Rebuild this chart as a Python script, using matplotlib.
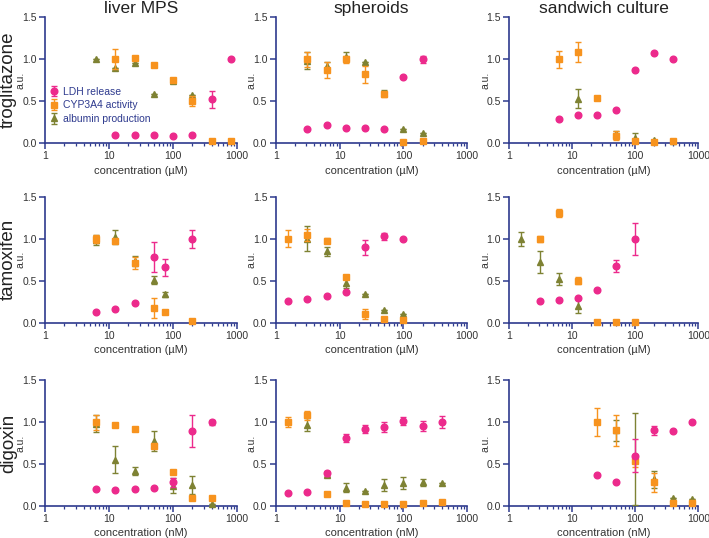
import matplotlib
matplotlib.use('Agg')
import matplotlib.pyplot as plt
import numpy as np
from matplotlib.ticker import LogLocator, NullFormatter, FixedLocator

nan = np.nan

# column / row names
cultures = ['liver MPS', 'spheroids', 'sandwich culture']
drugs = ['troglitazone', 'tamoxifen', 'digoxin']
units = ['µM', 'µM', 'nM']
series_names = ['LDH release', 'CYP3A4 activity', 'albumin production']

# troglitazone - liver MPS
trog_mps_conc = [6.25, 12.5, 25, 50, 100, 200, 400, 800]
trog_mps_ldh = [nan, 0.10, 0.095, 0.095, 0.085, 0.095, 0.52, 1.0]
trog_mps_ldh_err = [0, 0, 0, 0, 0, 0, 0.10, 0]
trog_mps_cyp = [nan, 1.0, 1.01, 0.93, 0.75, 0.50, 0.03, 0.02]
trog_mps_cyp_err = [0, 0.12, 0, 0.02, 0.02, 0.06, 0, 0]
trog_mps_alb = [1.0, 0.89, 0.95, 0.59, 0.74, 0.57, nan, nan]
trog_mps_alb_err = [0, 0, 0, 0, 0, 0, 0, 0]

# troglitazone - spheroids
trog_sph_conc = [3.125, 6.25, 12.5, 25, 50, 100, 200]
trog_sph_ldh = [0.17, 0.22, 0.185, 0.18, 0.17, 0.79, 1.0]
trog_sph_ldh_err = [0, 0, 0, 0, 0, 0, 0.04]
trog_sph_cyp = [1.0, 0.87, 1.0, 0.82, 0.58, 0.01, 0.02]
trog_sph_cyp_err = [0.09, 0.10, 0.04, 0.10, 0.03, 0, 0]
trog_sph_alb = [0.98, 0.92, 1.03, 0.97, 0.60, 0.17, 0.12]
trog_sph_alb_err = [0.10, 0.05, 0.05, 0, 0.03, 0, 0]

# troglitazone - sandwich culture
trog_sw_conc = [6.25, 12.5, 25, 50, 100, 200, 400]
trog_sw_ldh = [0.29, 0.33, 0.34, 0.39, 0.87, 1.07, 1.0]
trog_sw_ldh_err = [0, 0, 0, 0, 0, 0, 0]
trog_sw_cyp = [1.0, 1.09, 0.54, 0.09, 0.02, 0.01, 0.02]
trog_sw_cyp_err = [0.10, 0.12, 0, 0.05, 0, 0, 0]
trog_sw_alb = [nan, 0.53, nan, 0.11, 0.06, 0.04, 0.03]
trog_sw_alb_err = [0, 0.11, 0, 0.04, 0.06, 0, 0]

# tamoxifen - liver MPS
tam_mps_conc = [6.25, 12.5, 25, 50, 75, 200]
tam_mps_ldh = [0.13, 0.16, 0.23, 0.78, 0.66, 1.0]
tam_mps_ldh_err = [0, 0, 0, 0.18, 0.10, 0.11]
tam_mps_cyp = [1.0, 0.97, 0.71, 0.18, 0.13, 0.02]
tam_mps_cyp_err = [0.05, 0, 0.07, 0.12, 0, 0]
tam_mps_alb = [0.99, 1.02, 0.74, 0.51, 0.34, nan]
tam_mps_alb_err = [0.06, 0.08, 0.06, 0.05, 0.03, 0]

# tamoxifen - spheroids
tam_sph_conc = [1.5625, 3.125, 6.25, 12.5, 25, 50, 100]
tam_sph_ldh = [0.26, 0.28, 0.32, 0.37, 0.90, 1.03, 1.0]
tam_sph_ldh_err = [0, 0, 0, 0, 0.09, 0.04, 0]
tam_sph_cyp = [1.0, 1.05, 0.98, 0.55, 0.10, 0.04, 0.03]
tam_sph_cyp_err = [0.10, 0.07, 0.03, 0, 0.06, 0, 0]
tam_sph_alb = [nan, 1.0, 0.85, 0.47, 0.34, 0.15, 0.10]
tam_sph_alb_err = [0, 0.15, 0.05, 0.06, 0, 0, 0]

# tamoxifen - sandwich culture
tam_sw_conc = [1.5625, 3.125, 6.25, 12.5, 25, 50, 100]
tam_sw_ldh = [nan, 0.26, 0.27, 0.30, 0.39, 0.68, 1.0]
tam_sw_ldh_err = [0, 0, 0, 0, 0, 0.07, 0.19]
tam_sw_cyp = [nan, 1.0, 1.31, 0.50, 0.01, 0.01, 0.01]
tam_sw_cyp_err = [0, 0.04, 0.05, 0.04, 0, 0, 0]
tam_sw_alb = [1.0, 0.72, 0.52, 0.20, nan, nan, nan]
tam_sw_alb_err = [0.08, 0.13, 0.07, 0.08, 0, 0, 0]

# digoxin - liver MPS
dig_mps_conc = [6.25, 12.5, 25, 50, 100, 200, 400]
dig_mps_ldh = [0.20, 0.195, 0.20, 0.21, 0.28, 0.89, 1.0]
dig_mps_ldh_err = [0, 0, 0, 0, 0.05, 0.19, 0.03]
dig_mps_cyp = [1.0, 0.96, 0.92, 0.72, 0.40, 0.10, 0.09]
dig_mps_cyp_err = [0.09, 0, 0, 0, 0, 0, 0]
dig_mps_alb = [0.98, 0.55, 0.42, 0.77, 0.24, 0.25, 0.02]
dig_mps_alb_err = [0.10, 0.16, 0.05, 0.12, 0.09, 0.11, 0]

# digoxin - spheroids
dig_sph_conc = [1.5625, 3.125, 6.25, 12.5, 25, 50, 100, 200, 400]
dig_sph_ldh = [0.15, 0.17, 0.39, 0.81, 0.92, 0.94, 1.01, 0.95, 1.0]
dig_sph_ldh_err = [0, 0, 0.03, 0.05, 0.05, 0.06, 0.05, 0.06, 0.07]
dig_sph_cyp = [1.0, 1.08, 0.14, 0.03, 0.02, 0.02, 0.02, 0.04, 0.05]
dig_sph_cyp_err = [0.06, 0.05, 0, 0, 0, 0, 0, 0, 0]
dig_sph_alb = [nan, 0.97, 0.37, 0.22, 0.18, 0.25, 0.27, 0.28, 0.27]
dig_sph_alb_err = [0, 0.08, 0.03, 0.05, 0, 0.07, 0.07, 0.04, 0]

# digoxin - sandwich culture
dig_sw_conc = [25, 50, 100, 200, 400, 800]
dig_sw_ldh = [0.37, 0.29, 0.60, 0.90, 0.89, 1.0]
dig_sw_ldh_err = [0, 0, 0.20, 0.05, 0, 0]
dig_sw_cyp = [1.0, 0.90, 0.54, 0.28, 0.03, 0.03]
dig_sw_cyp_err = [0.17, 0.18, 0.07, 0.11, 0, 0]
dig_sw_alb = [nan, 0.90, 0.56, 0.32, 0.10, 0.08]
dig_sw_alb_err = [0, 0.12, 0.55, 0.10, 0, 0]

panels = [
    [(trog_mps_conc, trog_mps_ldh, trog_mps_ldh_err, trog_mps_cyp, trog_mps_cyp_err, trog_mps_alb, trog_mps_alb_err),
     (trog_sph_conc, trog_sph_ldh, trog_sph_ldh_err, trog_sph_cyp, trog_sph_cyp_err, trog_sph_alb, trog_sph_alb_err),
     (trog_sw_conc, trog_sw_ldh, trog_sw_ldh_err, trog_sw_cyp, trog_sw_cyp_err, trog_sw_alb, trog_sw_alb_err)],
    [(tam_mps_conc, tam_mps_ldh, tam_mps_ldh_err, tam_mps_cyp, tam_mps_cyp_err, tam_mps_alb, tam_mps_alb_err),
     (tam_sph_conc, tam_sph_ldh, tam_sph_ldh_err, tam_sph_cyp, tam_sph_cyp_err, tam_sph_alb, tam_sph_alb_err),
     (tam_sw_conc, tam_sw_ldh, tam_sw_ldh_err, tam_sw_cyp, tam_sw_cyp_err, tam_sw_alb, tam_sw_alb_err)],
    [(dig_mps_conc, dig_mps_ldh, dig_mps_ldh_err, dig_mps_cyp, dig_mps_cyp_err, dig_mps_alb, dig_mps_alb_err),
     (dig_sph_conc, dig_sph_ldh, dig_sph_ldh_err, dig_sph_cyp, dig_sph_cyp_err, dig_sph_alb, dig_sph_alb_err),
     (dig_sw_conc, dig_sw_ldh, dig_sw_ldh_err, dig_sw_cyp, dig_sw_cyp_err, dig_sw_alb, dig_sw_alb_err)],
]

plt.rcParams['font.family'] = ['Liberation Sans', 'DejaVu Sans']

pink = '#EC2A8C'
orange = '#F7931E'
olive = '#7E8233'
navy = '#2E3A8E'
textc = '#333333'

fig = plt.figure(figsize=(7.09, 5.38), dpi=100)

lefts = [0.0635, 0.389, 0.718]
widths = [0.271, 0.27, 0.267]
bottoms = [0.734, 0.400, 0.0595]
height = 0.234

for r in range(3):
    for c in range(3):
        ax = fig.add_axes([lefts[c], bottoms[r], widths[c], height])
        conc, ldh, ldh_err, cyp, cyp_err, alb, alb_err = panels[r][c]
        # albumin first, then CYP3A4, then LDH on top
        ax.errorbar(conc, alb, yerr=alb_err, fmt='^', color=olive, ms=4.8,
                    capsize=2.5, elinewidth=1, capthick=1, clip_on=False,
                    label=series_names[2], zorder=3)
        ax.errorbar(conc, cyp, yerr=cyp_err, fmt='s', color=orange, ms=4.8,
                    capsize=2.5, elinewidth=1, capthick=1, clip_on=False,
                    label=series_names[1], zorder=4)
        ax.errorbar(conc, ldh, yerr=ldh_err, fmt='o', color=pink, ms=4.8,
                    capsize=2.5, elinewidth=1, capthick=1, clip_on=False,
                    label=series_names[0], zorder=5)

        ax.set_xscale('log')
        ax.set_xlim(1, 1000)
        ax.set_ylim(0, 1.5)
        ax.xaxis.set_major_locator(FixedLocator([1, 10, 100, 1000]))
        ax.set_xticklabels(['1', '10', '100', '1000'])
        ax.xaxis.set_minor_locator(LogLocator(base=10, subs=np.arange(2, 10)))
        ax.xaxis.set_minor_formatter(NullFormatter())
        ax.set_yticks([0, 0.5, 1.0, 1.5])
        ax.set_yticklabels(['0.0', '0.5', '1.0', '1.5'])

        for s in ['top', 'right']:
            ax.spines[s].set_visible(False)
        for s in ['left', 'bottom']:
            ax.spines[s].set_color(navy)
            ax.spines[s].set_linewidth(1.2)
        ax.tick_params(axis='both', which='major', colors=navy, labelcolor=textc,
                       labelsize=7.5, length=4, width=1.1, direction='out', pad=2)
        ax.tick_params(axis='x', which='minor', colors=navy, length=2.2, width=0.9)

        ax.set_xlabel('concentration (%s)' % units[r], fontsize=8, color=textc, labelpad=3)
        ax.set_ylabel('a.u.', fontsize=7.5, color=textc)
        ax.yaxis.set_label_coords(-0.1, 0.5)

        if r == 0:
            ax.set_title(cultures[c], fontsize=12.5, color='#222222', pad=3)
        if c == 0:
            fig.text(0.012, bottoms[r] + height / 2, drugs[r], rotation=90,
                     ha='center', va='center', fontsize=13.5, color='#222222')
        if r == 0 and c == 0:
            h, l = ax.get_legend_handles_labels()
            leg = ax.legend(h[::-1], l[::-1], loc='center left', bbox_to_anchor=(0.0, 0.3),
                            frameon=False, fontsize=7.5, handlelength=0.6,
                            handletextpad=0.5, labelspacing=0.35, borderaxespad=0.2)
            for t in leg.get_texts():
                t.set_color(navy)

fig.savefig('out.png', dpi=100)
